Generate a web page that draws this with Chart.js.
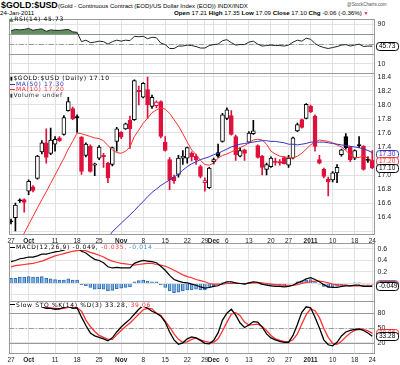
<!DOCTYPE html>
<html>
<head>
<meta charset="utf-8">
<title>$GOLD:$USD</title>
<script src="https://cdn.jsdelivr.net/npm/chart.js@4.4.1/dist/chart.umd.min.js"></script>
<style>
  body { margin: 0; background: #fff; }
  #wrap { position: relative; width: 400px; height: 365px; overflow: hidden; font-family: "Liberation Sans", Arial, sans-serif; color: #000; }
  #wrap canvas { position: absolute; left: 0; }
  .txt { position: absolute; white-space: nowrap; line-height: 1; }
  .lg { position: absolute; white-space: nowrap; font-family: "DejaVu Sans", sans-serif; font-size: 6px; letter-spacing: 0.65px; line-height: 5.7px; }
  .lg div { height: 5.7px; }
  .ln { display: inline-block; width: 5px; height: 1px; vertical-align: middle; margin-right: 1px; }
</style>
</head>
<body>
<div id="wrap">
  <div class="txt" style="left:1px;top:0.5px;font-size:8.8px;font-weight:bold">$GOLD:$USD</div>
  <div class="txt" style="left:58px;top:2.5px;font-size:6px">(Gold - Continuous Contract (EOD)/US Dollar Index (EOD)) INDX/INDX</div>
  <div class="txt" style="left:347px;top:2.5px;font-size:4.6px;color:#555">@StockCharts.com</div>
  <div class="txt" style="left:0;top:9.5px;font-size:6.2px">24-Jan-2011</div>
  <div class="txt" style="left:174px;top:9.5px;font-size:6.2px"><b>Open</b> 17.21 <b>High</b> 17.35 <b>Low</b> 17.09 <b>Close</b> 17.10 <b>Chg</b> -0.06 (-0.36%) <span style="color:#e0103c;font-size:5px">&#9660;</span></div>

  <canvas id="rsiChart" width="400" height="55" style="top:19px"></canvas>
  <canvas id="priceChart" width="400" height="175" style="top:73px"></canvas>
  <canvas id="macdChart" width="400" height="59" style="top:243px"></canvas>
  <canvas id="stoChart" width="400" height="64" style="top:301px"></canvas>

  <div class="lg" style="left:9px;top:15.5px"><span style="color:#4f7f4f">&#9650;</span>RSI(14) 45.73</div>
  <div class="lg" style="left:10px;top:75px">
    <div><span style="font-size:5px">&#9646;</span>$GOLD:$USD (Daily) 17.10</div>
    <div style="color:#3434c0"><span class="ln" style="background:#3434c0"></span>MA(50) 17.30</div>
    <div style="color:#ff3030"><span class="ln" style="background:#ff3030"></span>MA(10) 17.20</div>
    <div style="color:#333"><span style="font-size:5px">&#9646;</span>Volume undef</div>
  </div>
  <div class="lg" style="left:10px;top:244px;background:#fff;padding-right:1px"><span class="ln" style="background:#000"></span>MACD(12,26,9) -0.049, <span style="color:#ff3030">-0.035,</span> <span style="color:#3b8fd9">-0.014</span></div>
  <div class="lg" style="left:10px;top:301.5px;background:#fff;padding-right:1px"><span class="ln" style="background:#000"></span>Slow STO %K(14) %D(3) 33.28, <span style="color:#ff3030">39.06</span></div>
</div>
<script>
// trading days on the chart
const dates = [
  "9/27","9/28","9/29","9/30",
  "10/1","10/4","10/5","10/6","10/7","10/8","10/11","10/12","10/13","10/14","10/15",
  "10/18","10/19","10/20","10/21","10/22","10/25","10/26","10/27","10/28","10/29",
  "11/1","11/2","11/3","11/4","11/5","11/8","11/9","11/10","11/11","11/12",
  "11/15","11/16","11/17","11/18","11/19","11/22","11/23","11/24","11/26","11/29","11/30",
  "12/1","12/2","12/3","12/6","12/7","12/8","12/9","12/10","12/13","12/14","12/15","12/16","12/17",
  "12/20","12/21","12/22","12/23","12/27","12/28","12/29","12/30","12/31",
  "1/3","1/4","1/5","1/6","1/7","1/10","1/11","1/12","1/13","1/14","1/18","1/19","1/20","1/21","1/24"
];

// date axis labels
const tickDates = ["9/27","10/1","10/11","10/18","10/25","11/1","11/8","11/15","11/22","11/29","12/1","12/6","12/13","12/20","12/27","1/3","1/10","1/18","1/24"];
const tickText = ["27","Oct","11","18","25","Nov","8","15","22","29","Dec","6","13","20","27","2011","10","18","24"];

// daily OHLC
const open = [
  16.34,16.39,16.64,16.65,16.77,16.83,16.95,17.33,17.46,17.31,
  17.44,17.53,17.58,17.92,17.95,17.83,17.54,17.28,17.41,17.14,
  17.24,17.28,17.17,17.15,17.48,17.61,17.66,17.78,17.79,18.21,
  18.11,18.22,17.98,17.99,18.05,17.47,17.22,16.97,17.01,17.24,
  17.24,17.31,17.27,17.12,16.89,16.82,17.19,17.32,17.48,17.81,
  17.85,17.55,17.27,17.36,17.47,17.59,17.42,17.27,17.08,17.12,
  17.19,17.19,17.25,17.14,17.24,17.63,17.79,17.81,17.98,17.84,
  17.22,17.08,16.94,16.93,17.03,17.29,17.55,17.40,17.24,17.43,
  17.41,17.22,17.21
];
const high = [
  16.37,16.60,16.66,16.66,16.93,16.85,17.28,17.49,17.66,17.67,
  17.55,17.55,17.85,18.11,17.97,17.86,17.55,17.46,17.43,17.17,
  17.42,17.31,17.18,17.40,17.68,17.62,17.74,17.84,18.36,18.27,
  18.32,18.40,18.14,18.06,18.06,17.55,17.25,17.00,17.28,17.35,
  17.40,17.33,17.30,17.14,16.96,17.11,17.24,17.44,17.88,17.96,
  17.92,17.57,17.39,17.37,17.62,17.78,17.43,17.28,17.17,17.26,
  17.24,17.22,17.26,17.28,17.54,17.74,17.80,18.02,18.00,17.86,
  17.28,17.10,16.97,17.05,17.15,17.37,17.59,17.41,17.36,17.55,
  17.42,17.26,17.35
];
const low = [
  16.30,16.20,16.61,16.47,16.72,16.76,16.94,17.30,17.17,17.29,
  17.34,17.48,17.57,17.91,17.79,17.61,17.01,17.26,17.04,16.99,
  17.22,17.11,16.89,17.13,17.34,17.52,17.65,17.38,17.78,18.00,
  18.10,17.81,17.95,17.96,17.53,17.34,16.79,16.88,16.97,17.15,
  17.17,17.20,17.15,16.96,16.77,16.81,17.16,17.25,17.47,17.79,
  17.57,17.21,17.26,17.21,17.46,17.58,17.24,17.00,17.00,17.11,
  17.14,17.14,17.16,17.11,17.23,17.62,17.67,17.80,17.89,17.34,
  17.16,16.96,16.70,16.90,16.89,17.27,17.37,17.19,17.22,17.39,
  17.07,17.18,17.09
];
const close = [
  16.33,16.57,16.63,16.61,16.91,16.78,17.27,17.46,17.25,17.50,
  17.51,17.49,17.82,18.05,17.80,17.82,17.05,17.44,17.05,17.16,
  17.40,17.26,16.96,17.39,17.66,17.54,17.73,17.66,18.35,18.19,
  18.31,18.00,18.11,18.04,17.55,17.35,16.93,16.92,17.24,17.27,
  17.39,17.26,17.22,16.98,16.92,17.10,17.22,17.27,17.86,17.93,
  17.58,17.29,17.35,17.31,17.60,17.63,17.25,17.11,17.15,17.24,
  17.18,17.17,17.16,17.24,17.53,17.72,17.68,18.01,17.90,17.41,
  17.17,16.98,16.90,17.03,17.11,17.36,17.39,17.22,17.35,17.42,
  17.08,17.21,17.10
];

// moving averages as drawn
const ma50 = [
  null,null,null,null,null,null,null,null,null,null,
  null,null,null,null,null,null,null,null,null,null,
  null,null,16.10,16.19,16.25,16.31,16.37,16.43,16.49,16.56,
  16.62,16.69,16.75,16.80,16.85,16.89,16.93,16.97,17.01,17.07,
  17.12,17.16,17.19,17.22,17.24,17.26,17.29,17.31,17.34,17.37,
  17.40,17.42,17.44,17.45,17.46,17.47,17.48,17.49,17.49,17.48,
  17.48,17.47,17.46,17.44,17.44,17.43,17.44,17.45,17.47,17.47,
  17.47,17.47,17.46,17.45,17.44,17.43,17.42,17.41,17.40,17.39,
  17.37,17.35,17.32
];
const ma10 = [
  null,null,16.06,16.17,16.29,16.41,16.53,16.65,16.76,16.88,
  17.00,17.12,17.24,17.37,17.48,17.60,17.59,17.57,17.55,17.53,
  17.52,17.49,17.42,17.36,17.32,17.31,17.34,17.40,17.55,17.64,
  17.74,17.81,17.89,17.93,17.96,17.94,17.88,17.79,17.70,17.59,
  17.47,17.36,17.29,17.21,17.15,17.14,17.17,17.24,17.28,17.30,
  17.33,17.36,17.39,17.42,17.46,17.50,17.51,17.50,17.44,17.34,
  17.30,17.27,17.26,17.25,17.24,17.27,17.31,17.37,17.43,17.47,
  17.50,17.49,17.48,17.46,17.43,17.40,17.35,17.29,17.25,17.25,
  17.27,17.24,17.20
];

// RSI(14)
const rsi = [
  77,80,79,80,82,78,80,81,76,79,
  78,78,79,80,75,74,55,58,53,54,
  56,55,50,55,58,56,58,57,66,65,
  66,61,64,63,52,49,41,41,46,46,
  48,47,45,42,42,47,49,50,57,59,
  53,48,49,49,54,56,50,46,47,48,
  47,47,46,48,54,58,56,62,60,51,
  46,43,41,43,45,48,49,46,48,50,
  45,46,45.73
];

// MACD(12,26,9)
const macd = [
  0.38,0.40,0.43,0.44,0.46,0.46,0.48,0.51,0.51,0.53,
  0.55,0.56,0.58,0.62,0.62,0.63,0.56,0.53,0.47,0.42,
  0.40,0.36,0.29,0.27,0.28,0.27,0.27,0.27,0.35,0.38,
  0.40,0.39,0.38,0.36,0.30,0.23,0.14,0.07,0.04,0.02,
  0.01,-0.01,-0.03,-0.06,-0.08,-0.07,-0.05,-0.04,0.00,0.03,
  0.03,0.01,0.00,-0.01,0.01,0.03,0.02,-0.01,-0.03,-0.04,
  -0.05,-0.05,-0.06,-0.05,-0.03,0.01,0.04,0.08,0.10,0.07,
  0.03,-0.02,-0.06,-0.07,-0.07,-0.05,-0.04,-0.04,-0.03,-0.03,
  -0.05,-0.05,-0.049
];
const signal = [
  0.29,0.31,0.32,0.33,0.34,0.35,0.37,0.39,0.42,0.45,
  0.48,0.50,0.52,0.54,0.56,0.57,0.58,0.57,0.54,0.52,
  0.49,0.46,0.42,0.39,0.37,0.35,0.34,0.33,0.32,0.33,
  0.34,0.35,0.35,0.33,0.32,0.30,0.27,0.23,0.19,0.15,
  0.12,0.10,0.07,0.05,0.03,0.00,-0.01,-0.01,-0.01,0.00,
  0.00,0.00,0.00,0.00,0.00,0.01,0.01,0.01,0.00,-0.01,
  -0.02,-0.03,-0.03,-0.04,-0.03,-0.02,0.00,0.02,0.03,0.04,
  0.04,0.03,0.01,-0.01,-0.02,-0.03,-0.03,-0.04,-0.04,-0.04,
  -0.04,-0.04,-0.035
];
const hist = [
  0.09,0.09,0.11,0.11,0.12,0.11,0.11,0.12,0.09,0.08,
  0.07,0.06,0.06,0.08,0.06,0.06,-0.02,-0.04,-0.07,-0.10,
  -0.09,-0.10,-0.13,-0.12,-0.09,-0.08,-0.07,-0.06,0.03,0.05,
  0.06,0.04,0.03,0.03,-0.02,-0.07,-0.13,-0.16,-0.15,-0.13,
  -0.11,-0.11,-0.10,-0.11,-0.11,-0.07,-0.04,-0.03,0.01,0.03,
  0.03,0.01,0.00,-0.01,0.01,0.02,0.01,-0.02,-0.03,-0.03,
  -0.03,-0.02,-0.03,-0.01,0.00,0.03,0.04,0.06,0.07,0.03,
  -0.01,-0.05,-0.07,-0.06,-0.05,-0.02,-0.01,0.00,0.01,0.01,
  -0.01,-0.01,-0.014
];

// Slow stochastic %K(14) %D(3)
const stoK = [
  97,98,98,96,98,96,97,93,90,90,
  88,89,92,94,90,91,72,55,40,34,
  31,28,24,30,42,52,60,68,78,88,
  95,90,84,80,74,62,42,26,17,20,
  28,32,30,25,19,18,25,40,66,80,
  88,76,60,51,56,63,62,52,38,30,
  26,23,21,21,35,57,82,93,91,72,
  50,26,16,14,21,34,42,45,47,48,
  45,40,33.28
];
const stoD = [
  97,97,98,97,97,97,97,95,92,91,
  90,89,90,92,92,91,84,66,53,43,
  35,31,27,27,36,45,53,60,69,78,
  87,90,89,80,76,64,52,38,27,21,
  22,27,30,26,23,21,21,28,44,62,
  78,81,75,62,56,57,58,53,45,35,
  28,25,23,22,26,38,58,77,89,85,
  71,49,31,19,17,23,32,40,45,47,
  47,44,39.06
];

const RED = "#e0103c";
const LINE_RED = "#ff3030";
const BLUE = "#3434c0";
const GRID = "#e2e2e2";

Chart.defaults.font.family = "'Liberation Sans', Arial, sans-serif";
Chart.defaults.color = "#222";

// box round the plot area
function frame() {
  return {
    id: "frame",
    afterDatasetsDraw(c) {
      const a = c.chartArea, x = c.ctx;
      x.save();
      x.strokeStyle = "#999";
      x.lineWidth = 1;
      x.strokeRect(Math.round(a.left) + 0.5, Math.round(a.top) + 0.5, Math.round(a.right - a.left) - 1, Math.round(a.bottom - a.top) - 1);
      x.restore();
    }
  };
}

// overbought / oversold levels
function refLines(lines) {
  return {
    id: "refLines",
    beforeDatasetsDraw(c) {
      const a = c.chartArea, x = c.ctx, y = c.scales.y;
      x.save();
      lines.forEach(l => {
        const py = Math.round(y.getPixelForValue(l.v)) + 0.5;
        x.strokeStyle = l.color;
        x.lineWidth = 1;
        x.setLineDash(l.dash || []);
        x.beginPath();
        x.moveTo(a.left, py);
        x.lineTo(a.right, py);
        x.stroke();
      });
      x.restore();
    }
  };
}

// last value boxes on the right axis
function tags(items) {
  return {
    id: "tags",
    afterDraw(c) {
      const a = c.chartArea, x = c.ctx, y = c.scales.y;
      x.save();
      x.font = "6.5px 'Liberation Sans', Arial";
      x.textBaseline = "middle";
      items.forEach(t => {
        const py = Math.round(y.getPixelForValue(t.v));
        const bx = Math.round(a.right) + 1.5, w = 22, h = 8;
        x.fillStyle = "#fff";
        x.strokeStyle = t.color;
        x.lineWidth = 1;
        x.beginPath();
        x.roundRect(bx, py - h / 2 + 0.5, w, h, 3);
        x.fill();
        x.stroke();
        x.fillStyle = t.color;
        x.fillText(t.text, bx + 2.5, py + 0.5);
      });
      x.restore();
    }
  };
}

function base(min, max, yTicks, yLabel, xHeight) {
  return {
    responsive: false,
    animation: false,
    devicePixelRatio: 1,
    layout: { padding: { left: 8.8, right: 0, top: 0, bottom: 0 } },
    plugins: { legend: { display: false }, tooltip: { enabled: false } },
    scales: {
      x: {
        type: "category",
        offset: true,
        afterBuildTicks: s => { s.ticks = s.ticks.filter(t => tickDates.includes(dates[t.value])); },
        afterFit: s => { s.height = xHeight; s.paddingLeft = 0; s.paddingRight = 0; },
        grid: { color: GRID, offset: false, drawTicks: false },
        border: { display: false },
        ticks: {
          display: xHeight > 0,
          autoSkip: false,
          maxRotation: 0,
          padding: 2,
          color: "#222",
          font: c => ({ size: 6.5, weight: c.tick && /[A-Za-z]|2011/.test(c.tick.label) ? "bold" : "normal" }),
          callback: v => tickText[tickDates.indexOf(dates[v])]
        }
      },
      y: {
        position: "right",
        min: min,
        max: max,
        afterBuildTicks: s => { s.ticks = yTicks.map(v => ({ value: v })); },
        afterFit: s => { s.width = 25.5; s.paddingTop = 0; s.paddingBottom = 0; },
        grid: { color: GRID, drawTicks: false },
        border: { display: false },
        ticks: { padding: 3, color: "#222", font: { size: 7 }, callback: yLabel }
      }
    }
  };
}

const dashDot = [5, 2, 1, 2];

// RSI panel
new Chart(document.getElementById("rsiChart"), {
  type: "line",
  data: {
    labels: dates,
    datasets: [{
      data: rsi,
      borderColor: "#222",
      borderWidth: 1,
      pointRadius: 0,
      fill: { target: { value: 70 }, above: "#5f8f5f", below: "rgba(0,0,0,0)" }
    }]
  },
  options: base(-11, 101.2, [10, 30, 50, 70, 90], v => (v === 50 ? "" : String(v)), 0),
  plugins: [
    refLines([{ v: 70, color: "#999" }, { v: 30, color: "#999" }, { v: 50, color: "#999", dash: dashDot }]),
    frame(),
    tags([{ v: 45.73, text: "45.73", color: "#000" }])
  ]
});

// price panel: candles + moving averages
const up = close.map((c, i) => c > open[i]);
const tone = close.map((c, i) => (i > 0 && c < close[i - 1] ? RED : "#000"));
const priceTicks = [16.2, 16.4, 16.6, 16.8, 17.0, 17.2, 17.4, 17.6, 17.8, 18.0, 18.2, 18.4];

new Chart(document.getElementById("priceChart"), {
  type: "bar",
  data: {
    labels: dates,
    datasets: [
      { type: "line", data: ma50, borderColor: BLUE, borderWidth: 1, pointRadius: 0, order: 0 },
      { type: "line", data: ma10, borderColor: LINE_RED, borderWidth: 1, pointRadius: 0, order: 1 },
      {
        data: open.map((o, i) => [o, close[i]]),
        backgroundColor: up.map((u, i) => (u ? "#fff" : tone[i])),
        borderColor: tone,
        borderWidth: 1,
        borderSkipped: false,
        barThickness: 4,
        minBarLength: 1,
        grouped: false,
        order: 2
      },
      {
        data: low.map((l, i) => [l, high[i]]),
        backgroundColor: tone,
        barThickness: 1,
        grouped: false,
        order: 3
      }
    ]
  },
  options: base(16.143, 18.457, priceTicks, v => (v === 17.2 || v === 16.2 ? "" : v.toFixed(1)), 13),
  plugins: [
    frame(),
    tags([
      { v: 17.30, text: "17.30", color: BLUE },
      { v: 17.20, text: "17.20", color: LINE_RED },
      { v: 17.10, text: "17.10", color: "#000" }
    ])
  ]
});

// MACD panel
new Chart(document.getElementById("macdChart"), {
  type: "bar",
  data: {
    labels: dates,
    datasets: [
      { type: "line", data: macd, borderColor: "#000", borderWidth: 1.2, pointRadius: 0, order: 0 },
      { type: "line", data: signal, borderColor: LINE_RED, borderWidth: 1.2, pointRadius: 0, order: 1 },
      { data: hist, backgroundColor: "#7eb3e6", borderColor: "#2f6db2", borderWidth: 1, barThickness: 3, order: 2 }
    ]
  },
  options: base(-0.322, 0.704, [-0.2, 0, 0.2, 0.4, 0.6], v => (v >= 0.2 ? v.toFixed(1) : ""), 0),
  plugins: [
    frame(),
    tags([
      { v: -0.014, text: "-0.014", color: "#3b8fd9" },
      { v: -0.035, text: "-0.035", color: LINE_RED },
      { v: -0.049, text: "-0.049", color: "#000" }
    ])
  ]
});

// Slow stochastic panel
new Chart(document.getElementById("stoChart"), {
  type: "line",
  data: {
    labels: dates,
    datasets: [
      { data: stoK, borderColor: "#000", borderWidth: 1.3, pointRadius: 0, order: 0 },
      { data: stoD, borderColor: LINE_RED, borderWidth: 1.3, pointRadius: 0, order: 1 }
    ]
  },
  options: base(-2.7, 104.75, [20, 50, 80], v => String(v), 11),
  plugins: [
    refLines([{ v: 80, color: "#999" }, { v: 20, color: "#999" }, { v: 50, color: "#999", dash: dashDot }]),
    frame(),
    tags([
      { v: 39.06, text: "39.06", color: LINE_RED },
      { v: 33.28, text: "33.28", color: "#000" }
    ])
  ]
});
</script>
</body>
</html>
